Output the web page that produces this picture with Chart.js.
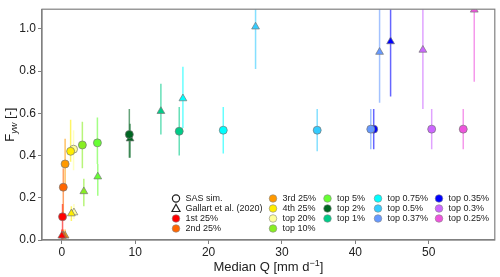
<!DOCTYPE html>
<html>
<head>
<meta charset="utf-8">
<script src="https://cdn.jsdelivr.net/npm/chart.js@4/dist/chart.umd.min.js"></script>
<style>
  html, body { margin: 0; padding: 0; background: #fff; }
  #wrap { position: relative; width: 500px; height: 277px; }
</style>
</head>
<body>
<div id="wrap"><canvas id="chart" width="500" height="277"></canvas></div>
<script>
// flow classes
const categories = ['1st 25%', '2nd 25%', '3rd 25%', '4th 25%', 'top 20%', 'top 10%', 'top 5%',
    'top 2%', 'top 1%', 'top 0.75%', 'top 0.5%', 'top 0.37%', 'top 0.35%', 'top 0.3%', 'top 0.25%'];

// SAS sim. (circles): median Q, F_yw, and error bar range
const sasQ  = [0.1, 0.2, 0.45, 1.2, 1.6, 2.8, 4.85, 9.2, 16.0, 22.0, 34.8, 42.1, 42.5, 50.4, 54.7];
const sasF  = [0.11, 0.25, 0.36, 0.42, 0.43, 0.45, 0.46, 0.50, 0.515, 0.52, 0.52, 0.525, 0.525, 0.525, 0.525];
const sasLo = [-0.02, 0.12, 0.25, 0.37, 0.33, 0.34, 0.36, 0.39, 0.40, 0.41, 0.42, 0.43, 0.43, 0.43, 0.43];
const sasHi = [0.17, 0.34, 0.48, 0.57, 0.52, 0.56, 0.58, 0.62, 0.63, 0.63, 0.62, 0.62, 0.62, 0.62, 0.62];

// Gallart et al. (2020) (triangles)
const galQ  = [0.0, 0.2, 0.45, 1.3, 1.65, 3.0, 4.9, 9.3, 13.5, 16.5, 26.4, 43.3, 44.8, 49.2, 56.2];
const galF  = [0.02, 0.02, 0.02, 0.125, 0.13, 0.23, 0.30, 0.48, 0.61, 0.67, 1.01, 0.89, 0.94, 0.90, 1.09];
const galLo = [0.0, 0.0, 0.0, 0.09, 0.10, 0.16, 0.21, 0.39, 0.50, 0.53, 0.81, 0.65, 0.68, 0.62, 0.75];
const galHi = [0.05, 0.05, 0.05, 0.16, 0.17, 0.29, 0.36, 0.55, 0.74, 0.82, 1.2, 1.2, 1.2, 1.2, 1.2];

const xTicks = [0, 10, 20, 30, 40, 50];
const yTicks = [0.0, 0.2, 0.4, 0.6, 0.8, 1.0];

const colors = ['#ff0000', '#ff6600', '#ff9900', '#ffee00', '#ffff99', '#88ee22', '#66ff33',
    '#006622', '#00cc88', '#00ffff', '#33ccff', '#6699ff', '#0000ff', '#cc66ff', '#ee55dd'];

const FONT = '"Liberation Sans", Arial, sans-serif';

function withAlpha(hex, a) {
    const n = parseInt(hex.slice(1), 16);
    return `rgba(${(n >> 16) & 255}, ${(n >> 8) & 255}, ${n & 255}, ${a})`;
}

const datasets = [];
categories.forEach((cat, i) => {
    datasets.push({
        label: cat + ' (SAS)',
        data: [{ x: sasQ[i], y: sasF[i] }],
        errLo: [sasLo[i]], errHi: [sasHi[i]],
        pointStyle: 'circle', pointRadius: 4, pointHoverRadius: 4,
        backgroundColor: colors[i], borderColor: '#777', borderWidth: 0.7
    });
    datasets.push({
        label: cat + ' (Gallart)',
        data: [{ x: galQ[i], y: galF[i] }],
        errLo: [galLo[i]], errHi: [galHi[i]],
        pointStyle: 'triangle', pointRadius: 4.5, pointHoverRadius: 4.5,
        backgroundColor: colors[i], borderColor: '#777', borderWidth: 0.7
    });
});

const errorBars = {
    id: 'errorBars',
    beforeDatasetsDraw(chart) {
        const { ctx, chartArea, scales } = chart;
        ctx.save();
        ctx.beginPath();
        ctx.rect(chartArea.left, chartArea.top, chartArea.right - chartArea.left, chartArea.bottom - chartArea.top);
        ctx.clip();
        ctx.lineWidth = 1.5;
        chart.data.datasets.forEach(ds => {
            ds.data.forEach((p, k) => {
                const x = scales.x.getPixelForValue(p.x);
                ctx.strokeStyle = withAlpha(ds.backgroundColor, 0.6);
                ctx.beginPath();
                ctx.moveTo(x, scales.y.getPixelForValue(ds.errLo[k]));
                ctx.lineTo(x, scales.y.getPixelForValue(ds.errHi[k]));
                ctx.stroke();
            });
        });
        ctx.restore();
    }
};

const frame = {
    id: 'frame',
    afterDraw(chart) {
        const { ctx, chartArea: a } = chart;
        ctx.save();
        ctx.strokeStyle = '#808080';
        ctx.lineWidth = 1.2;
        ctx.strokeRect(a.left, a.top, a.right - a.left, a.bottom - a.top);
        ctx.restore();
    }
};

const titles = {
    id: 'titles',
    afterDraw(chart) {
        const { ctx, chartArea: a } = chart;
        ctx.save();
        ctx.fillStyle = '#222';
        ctx.textBaseline = 'alphabetic';
        // x title with superscript
        const big = '13px ' + FONT, small = '9px ' + FONT;
        const parts = [['Median Q [mm d', big, 0], ['\u22121', small, -5], [']', big, 0]];
        let w = 0;
        parts.forEach(p => { ctx.font = p[1]; w += ctx.measureText(p[0]).width; });
        let x = (a.left + a.right) / 2 - w / 2;
        parts.forEach(p => {
            ctx.font = p[1];
            ctx.fillText(p[0], x, 271 + p[2]);
            x += ctx.measureText(p[0]).width;
        });
        // y title with subscript, rotated
        const yparts = [['F', big, 0], ['yw', 'italic 9px ' + FONT, 3], [' [-]', big, 0]];
        w = 0;
        yparts.forEach(p => { ctx.font = p[1]; w += ctx.measureText(p[0]).width; });
        ctx.translate(14, (a.top + a.bottom) / 2);
        ctx.rotate(-Math.PI / 2);
        x = -w / 2;
        yparts.forEach(p => {
            ctx.font = p[1];
            ctx.fillText(p[0], x, p[2]);
            x += ctx.measureText(p[0]).width;
        });
        ctx.restore();
    }
};

const legendBox = {
    id: 'legendBox',
    afterDraw(chart) {
        const { ctx } = chart;
        const colX = [176, 273, 327.5, 378, 439];
        const rowY = [198.5, 208.5, 218.5, 228.5];
        const entries = [{ label: 'SAS sim.', style: 'circle', color: null },
            { label: 'Gallart et al. (2020)', style: 'triangle', color: null }]
            .concat(categories.map((c, i) => ({ label: c, style: 'circle', color: colors[i] })));
        const perCol = [4, 4, 3, 3, 3];
        let idx = 0;
        ctx.save();
        ctx.font = '9px ' + FONT;
        ctx.textBaseline = 'middle';
        perCol.forEach((n, c) => {
            for (let r = 0; r < n; r++) {
                const e = entries[idx++];
                const x = colX[c], y = rowY[r];
                ctx.beginPath();
                if (e.style === 'circle') {
                    ctx.arc(x, y, e.color ? 3.8 : 3.6, 0, Math.PI * 2);
                } else {
                    ctx.moveTo(x, y - 4.2);
                    ctx.lineTo(x + 4, y + 3);
                    ctx.lineTo(x - 4, y + 3);
                    ctx.closePath();
                }
                if (e.color) {
                    ctx.fillStyle = e.color;
                    ctx.fill();
                    ctx.strokeStyle = '#888';
                    ctx.lineWidth = 0.6;
                } else {
                    ctx.fillStyle = '#fff';
                    ctx.fill();
                    ctx.strokeStyle = '#222';
                    ctx.lineWidth = 1.2;
                }
                ctx.stroke();
                ctx.fillStyle = '#222';
                ctx.fillText(e.label, x + 9.5, y + 0.5);
            }
        });
        ctx.restore();
    }
};

new Chart(document.getElementById('chart'), {
    type: 'scatter',
    data: { datasets: datasets },
    plugins: [errorBars, frame, titles, legendBox],
    options: {
        responsive: false,
        animation: false,
        events: [],
        layout: { padding: { top: 5, right: 5, left: 0, bottom: 0 } },
        plugins: { legend: { display: false }, tooltip: { enabled: false } },
        scales: {
            x: {
                type: 'linear', min: -2.7, max: 59,
                afterFit(s) { s.height = 37; },
                afterBuildTicks(s) { s.ticks = xTicks.map(v => ({ value: v })); },
                ticks: { font: { family: FONT, size: 12 }, color: '#222', padding: 1,
                    maxRotation: 0, callback: v => String(v) },
                grid: { drawOnChartArea: false, drawTicks: true, tickLength: 4, color: '#808080', lineWidth: 1 },
                border: { display: true, color: '#808080', width: 1.2 }
            },
            y: {
                type: 'linear', min: 0, max: 1.093,
                afterFit(s) { s.width = 42; },
                afterBuildTicks(s) { s.ticks = yTicks.map(v => ({ value: v })); },
                ticks: { font: { family: FONT, size: 12 }, color: '#222', padding: 2,
                    callback: v => Number(v).toFixed(1) },
                grid: { drawOnChartArea: false, drawTicks: true, tickLength: 4, color: '#808080', lineWidth: 1 },
                border: { display: true, color: '#808080', width: 1.2 }
            }
        }
    }
});
</script>
</body>
</html>
